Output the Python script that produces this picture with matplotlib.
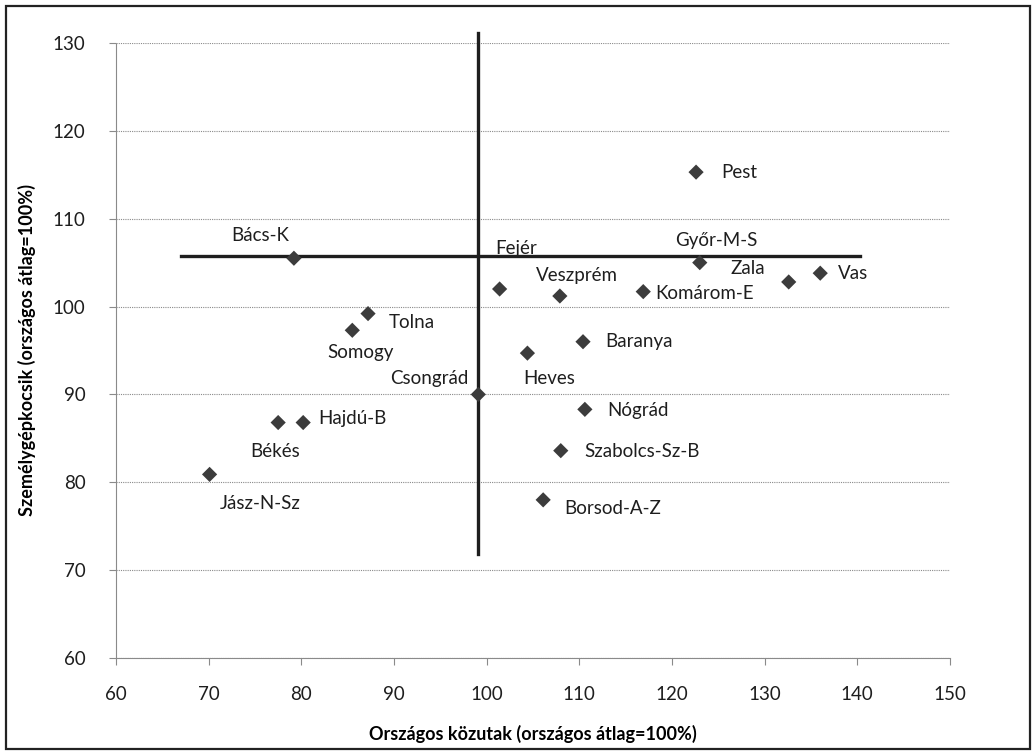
import matplotlib
matplotlib.use("Agg")
import matplotlib.pyplot as plt
from matplotlib.patches import Rectangle

plt.rcParams['font.family'] = ['Lato', 'DejaVu Sans']

# megyék: (közutak %, személygépkocsik %)
megyek = ["Pest", "Bács-K", "Győr-M-S", "Zala", "Vas", "Komárom-E", "Fejér",
          "Veszprém", "Baranya", "Heves", "Nógrád", "Szabolcs-Sz-B", "Borsod-A-Z",
          "Tolna", "Somogy", "Csongrád", "Hajdú-B", "Békés", "Jász-N-Sz"]
kozutak = [122.6, 79.2, 123.0, 132.6, 136.0, 116.9, 101.4,
           107.9, 110.4, 104.4, 110.6, 108.0, 106.1,
           87.2, 85.5, 99.1, 80.2, 77.5, 70.1]
szgk = [115.3, 105.5, 105.0, 102.8, 103.8, 101.7, 102.0,
        101.2, 96.0, 94.7, 88.3, 83.6, 78.0,
        99.2, 97.3, 90.0, 86.8, 86.8, 80.9]

# címke eltolás pixelben (dx, dy) és igazítás
cimke_pos = {
    "Pest": (25, 0, "left"), "Bács-K": (-34, 23, "center"),
    "Győr-M-S": (17, 22, "center"), "Zala": (-41, 13, "center"),
    "Vas": (18, 0, "left"), "Komárom-E": (12, -2, "left"),
    "Fejér": (17, 40, "center"), "Veszprém": (17, 21, "center"),
    "Baranya": (22, 0, "left"), "Heves": (22, -25, "center"),
    "Nógrád": (22, -1, "left"), "Szabolcs-Sz-B": (24, -1, "left"),
    "Borsod-A-Z": (21, -9, "left"), "Tolna": (21, -9, "left"),
    "Somogy": (8, -22, "center"), "Csongrád": (-10, 16, "right"),
    "Hajdú-B": (15, 4, "left"), "Békés": (-3, -29, "center"),
    "Jász-N-Sz": (51, -29, "center"),
}

# átlag vonalak
vizszintes_x = [67.0, 140.3]
vizszintes_y = [105.75, 105.75]
fuggoleges_x = [99.1, 99.1]
fuggoleges_y = [71.8, 131.1]

fig = plt.figure(figsize=(10.32, 7.54), dpi=100)
ax = fig.add_axes([0.1124, 0.1273, 0.8081, 0.8157])

ax.set_xlim(60, 150)
ax.set_ylim(60, 130)
ax.set_xticks(range(60, 151, 10))
ax.set_yticks(range(60, 131, 10))

ax.yaxis.grid(True, linestyle=(0, (1, 1)), color="#8a8a8a", linewidth=0.8)
ax.set_axisbelow(True)
for s in ["top", "right"]:
    ax.spines[s].set_visible(False)
for s in ["left", "bottom"]:
    ax.spines[s].set_linestyle((0, (1, 1)))
    ax.spines[s].set_color("#8a8a8a")
    ax.spines[s].set_linewidth(0.8)
ax.tick_params(axis="both", length=5, width=0.8, color="#8a8a8a",
               labelsize=13.5, labelcolor="#1e1e1e")
ax.tick_params(axis="y", pad=17)
ax.tick_params(axis="x", pad=15)

ax.plot(vizszintes_x, vizszintes_y, color="#1e1e1e", linewidth=2.4, zorder=2)
ax.plot(fuggoleges_x, fuggoleges_y, color="#1e1e1e", linewidth=2.4, zorder=2,
        clip_on=False)

ax.scatter(kozutak, szgk, marker="D", s=60, color="#3c3c3c", zorder=3,
           edgecolors="none")

for nev, x, y in zip(megyek, kozutak, szgk):
    dx, dy, ha = cimke_pos[nev]
    ax.annotate(nev, (x, y), xytext=(dx, dy), textcoords="offset pixels",
                ha=ha, va="center", fontsize=13.5, color="#1e1e1e")

ax.set_xlabel("Országos közutak (országos átlag=100%)", fontsize=13,
              fontweight="bold", labelpad=16)
ax.set_ylabel("Személygépkocsik (országos átlag=100%)", fontsize=13,
              fontweight="bold", labelpad=12)

fig.patches.append(Rectangle((0.006, 0.006), 0.992, 0.986, transform=fig.transFigure,
                             fill=False, edgecolor="#222222", linewidth=1.6))

fig.savefig("out.png", dpi=100, facecolor="white")
